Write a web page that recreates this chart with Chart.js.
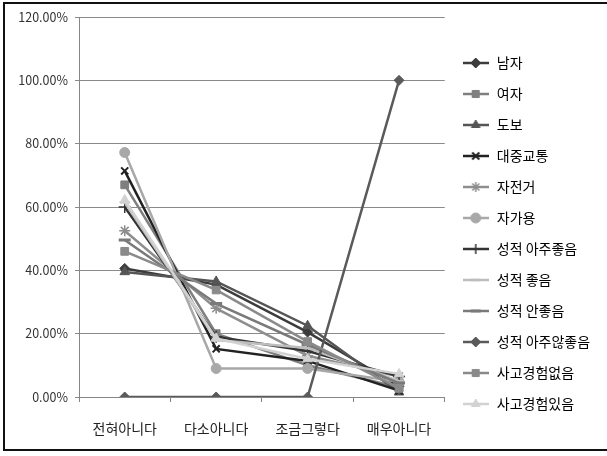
<!DOCTYPE html>
<html lang="ko">
<head>
<meta charset="utf-8">
<title>응답 분포</title>
<script src="https://cdn.jsdelivr.net/npm/chart.js@4.4.1/dist/chart.umd.min.js"></script>
<style>
  html, body { margin: 0; padding: 0; background: #fff; }
  #wrap { position: relative; width: 607px; height: 456px; overflow: hidden; }
  #frame { position: absolute; left: 3px; top: 2px; width: 620px; height: 449px;
           border: 2px solid #111; box-sizing: border-box; pointer-events: none; }
  canvas { position: absolute; left: 0; top: 0; }
</style>
</head>
<body>
<div id="wrap">
  <canvas id="chart" width="607" height="456"></canvas>
  <div id="frame"></div>
</div>
<script>
// Answer categories on the x axis
const categories = ['전혀아니다', '다소아니다', '조금그렇다', '매우아니다'];

// Share of respondents per answer (percent)
const male        = [40.6, 35.5, 20.5, 3.4];
const female      = [67.0, 20.0, 10.0, 3.0];
const walk        = [39.5, 36.5, 22.5, 1.5];
const transit     = [71.4, 15.2, 11.4, 2.0];
const bicycle     = [52.5, 28.0, 13.0, 6.5];
const car         = [77.2, 9.0, 9.0, 4.8];
const gradeTop    = [60.0, 19.0, 14.5, 6.5];
const gradeGood   = [61.5, 18.0, 15.5, 5.0];
const gradePoor   = [49.6, 29.5, 16.5, 4.4];
const gradeBottom = [0, 0, 0, 100];
const noAccident  = [46.0, 33.8, 17.5, 2.7];
const hadAccident = [62.2, 18.5, 12.0, 7.3];

// Series names shown in the legend
const seriesNames = ['남자', '여자', '도보', '대중교통', '자전거', '자가용',
  '성적 아주좋음', '성적 좋음', '성적 안좋음', '성적 아주않좋음', '사고경험없음', '사고경험있음'];

// Y axis range and step (percent)
const yMin = 0, yMax = 120, yStep = 20;

const seriesValues = [male, female, walk, transit, bicycle, car,
  gradeTop, gradeGood, gradePoor, gradeBottom, noAccident, hadAccident];

// Grayscale line styles and markers for each series
const seriesStyles = [
  { color: '#3c3c3c', marker: 'rectRot',  r: 5,   bw: 1 },
  { color: '#7f7f7f', marker: 'rect',     r: 5.5, bw: 1 },
  { color: '#555555', marker: 'triangle', r: 5.5, bw: 1 },
  { color: '#222222', marker: 'crossRot', r: 5,   bw: 2 },
  { color: '#8e8e8e', marker: 'star',     r: 5.5, bw: 1.5 },
  { color: '#a8a8a8', marker: 'circle',   r: 5,   bw: 1 },
  { color: '#343434', marker: 'cross',    r: 6,   bw: 1.5 },
  { color: '#bdbdbd', marker: 'line',     r: 5,   bw: 2.5 },
  { color: '#7a7a7a', marker: 'line',     r: 6,   bw: 3 },
  { color: '#5a5a5a', marker: 'rectRot',  r: 5,   bw: 1 },
  { color: '#8a8a8a', marker: 'rect',     r: 5.5, bw: 1 },
  { color: '#d2d2d2', marker: 'triangle', r: 5.5, bw: 1 }
];

const datasets = seriesNames.map((name, i) => {
  const s = seriesStyles[i];
  return {
    label: name,
    data: seriesValues[i],
    borderColor: s.color,
    backgroundColor: s.color,
    borderWidth: 2.5,
    tension: 0,
    fill: false,
    pointStyle: s.marker,
    pointRadius: s.r,
    pointBorderWidth: s.bw,
    pointBorderColor: s.color,
    pointBackgroundColor: s.color,
    order: -i
  };
});

// Legend swatch: a short line with the series marker in its middle
function legendSwatch(s) {
  const c = document.createElement('canvas');
  c.width = 26; c.height = 14;
  const g = c.getContext('2d');
  g.strokeStyle = s.color;
  g.lineWidth = 2.5;
  g.beginPath(); g.moveTo(0, 7); g.lineTo(26, 7); g.stroke();
  g.fillStyle = s.color;
  g.strokeStyle = s.color;
  g.lineWidth = s.bw;
  if (Chart.helpers && Chart.helpers.drawPoint) {
    Chart.helpers.drawPoint(g, { pointStyle: s.marker, radius: Math.min(s.r, 5), rotation: 0, borderWidth: s.bw }, 13, 7);
  }
  return c;
}

const fontFamily = '"Noto Sans CJK KR", "Noto Sans", sans-serif';

new Chart(document.getElementById('chart'), {
  type: 'line',
  data: { labels: categories, datasets: datasets },
  options: {
    responsive: false,
    animation: false,
    events: [],
    layout: { padding: { top: 17, left: 0, right: 14, bottom: 6 } },
    plugins: {
      tooltip: { enabled: false },
      legend: {
        position: 'right',
        align: 'center',
        labels: {
          usePointStyle: true,
          pointStyleWidth: 28,
          boxHeight: 14,
          padding: 17,
          color: '#222',
          font: { family: fontFamily, size: 14 },
          generateLabels: (chart) => chart.data.datasets.map((ds, i) => ({
            text: ds.label,
            pointStyle: legendSwatch(seriesStyles[i]),
            fillStyle: seriesStyles[i].color,
            strokeStyle: seriesStyles[i].color,
            lineWidth: 0,
            hidden: false,
            datasetIndex: i
          }))
        }
      }
    },
    scales: {
      x: {
        offset: true,
        afterFit: (scale) => { scale.height = 53; },
        grid: { offset: true, drawOnChartArea: false, drawTicks: true, tickLength: 5, color: '#868686' },
        border: { color: '#868686', width: 1 },
        ticks: { color: '#222', padding: 18, maxRotation: 0, font: { family: fontFamily, size: 14 } }
      },
      y: {
        min: yMin,
        max: yMax,
        afterFit: (scale) => { scale.width = 79; },
        grid: { color: '#8a8a8a', lineWidth: 1, tickLength: 4, drawTicks: true },
        border: { color: '#868686', width: 1 },
        ticks: {
          stepSize: yStep,
          padding: 7,
          color: '#333',
          font: { family: fontFamily, size: 12.5 },
          callback: (v) => Number(v).toFixed(2) + '%'
        }
      }
    }
  }
});
</script>
</body>
</html>
